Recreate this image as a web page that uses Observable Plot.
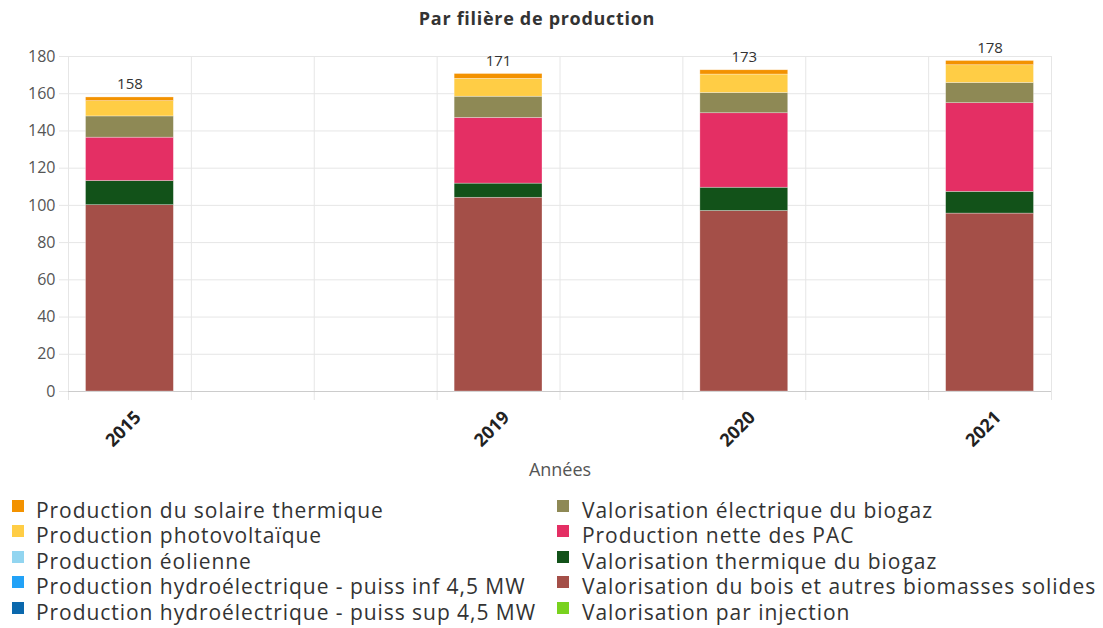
<!DOCTYPE html>
<html>
<head>
<meta charset="utf-8">
<script src="https://cdn.jsdelivr.net/npm/d3@7"></script>
<script src="https://cdn.jsdelivr.net/npm/@observablehq/plot@0.6"></script>
<style>
  body { margin: 0; background: #fff; }
  #wrap { position: relative; width: 1103px; height: 628px; font-family: "Open Sans", sans-serif; overflow: hidden; background: #fff; }
  #title { position: absolute; top: 6px; left: 0; width: 1074px; text-align: center; font-weight: 700; font-size: 18px; letter-spacing: 0.7px; color: #333; z-index: 2; }
  #chart { position: absolute; top: 20px; left: 0; z-index: 1; }
  .leg { position: absolute; font-size: 21px; letter-spacing: 0.95px; color: #333; line-height: 25.4px; white-space: nowrap; }
</style>
</head>
<body>
<div id="wrap">
  <div id="chart"></div>
  <div id="title"></div>
  <div id="legend"></div>
</div>
<script>
// ---- data ----
const title = "Par filière de production";
const xLabel = "Années";
const slots = ["2015", "_a", "_b", "2019", "_c", "2020", "_d", "2021"];
const years = ["2015", "2019", "2020", "2021"];

const seriesNames = [
  "Production du solaire thermique",
  "Production photovoltaïque",
  "Production éolienne",
  "Production hydroélectrique - puiss inf 4,5 MW",
  "Production hydroélectrique - puiss sup 4,5 MW",
  "Valorisation électrique du biogaz",
  "Production nette des PAC",
  "Valorisation thermique du biogaz",
  "Valorisation du bois et autres biomasses solides",
  "Valorisation par injection"
];
const seriesColors = [
  "#f39200", "#ffcd45", "#92d5f0", "#22a2f7", "#0a68ad",
  "#8e8955", "#e42f64", "#125219", "#a44f48", "#79d21e"
];

const solaireThermique = [2.0, 2.6, 2.3, 2.3];
const photovoltaique   = [8.2, 9.6, 9.9, 9.5];
const eolienne         = [0, 0, 0, 0];
const hydroInf         = [0, 0, 0, 0];
const hydroSup         = [0, 0, 0, 0];
const elecBiogaz       = [11.4, 11.4, 10.9, 10.9];
const pac              = [23.3, 35.3, 40.0, 47.6];
const thermBiogaz      = [13.0, 7.6, 12.5, 11.7];
const bois             = [100.1, 104.1, 97.0, 95.6];
const injection        = [0, 0, 0, 0];

const seriesValues = [solaireThermique, photovoltaique, eolienne, hydroInf, hydroSup,
                      elecBiogaz, pac, thermBiogaz, bois, injection];

const yTicks = [0, 20, 40, 60, 80, 100, 120, 140, 160, 180];

// ---- table (bottom of stack = last series) ----
const rows = [];
for (let s = seriesNames.length - 1; s >= 0; s--) {
  years.forEach((y, i) => rows.push({year: y, series: seriesNames[s], value: seriesValues[s][i]}));
}
const totals = years.map((y, i) => ({
  year: y,
  total: d3.sum(seriesValues, v => v[i])
}));

// ---- layout ----
const width = 1103, height = 475;
const mL = 68, mR = 52, mT = 36, mB = 104;
const step = (width - mL - mR) / slots.length;

document.getElementById("title").textContent = title;

const chart = Plot.plot({
  width, height,
  marginLeft: mL, marginRight: mR, marginTop: mT, marginBottom: mB,
  style: {fontFamily: "'Open Sans', sans-serif", background: "transparent", overflow: "visible"},
  x: {domain: slots, paddingInner: 0.285, paddingOuter: 0.1425, round: false, axis: null},
  y: {domain: [0, 180], axis: null},
  color: {domain: seriesNames, range: seriesColors},
  marks: [
    Plot.gridY(yTicks, {stroke: "#e6e6e6", strokeOpacity: 1, insetLeft: -9}),
    Plot.ruleX(slots, {x: d => d, y1: 180, y2: 0, dx: -step / 2, stroke: "#e6e6e6", insetBottom: -9}),
    Plot.ruleX([slots[slots.length - 1]], {x: d => d, y1: 180, y2: 0, dx: step / 2, stroke: "#e6e6e6", insetBottom: -9}),
    Plot.ruleY([0], {stroke: "#cccccc"}),
    Plot.axisY(yTicks, {tickSize: 0, tickPadding: 13, fontSize: 16, fill: "#555", label: null}),
    Plot.barY(rows, Plot.stackY({x: "year", y: "value", fill: "series", stroke: "#ffffff", strokeWidth: 0.6, strokeOpacity: 0.5})),
    Plot.text(totals, {x: "year", y: "total", text: d => String(Math.round(d.total)), dy: -13, fontSize: 15, fill: "#333", style: "letter-spacing:0.5px"}),
    Plot.text(years, {x: d => d, y: () => 0, text: d => d, rotate: -45, textAnchor: "end", lineAnchor: "middle", dx: 8, dy: 23, fontSize: 18, fontWeight: 700, fill: "#222"}),
    Plot.text([xLabel], {frameAnchor: "bottom", dy: 84, fontSize: 18, fill: "#555"})
  ]
});
chart.querySelectorAll("text").forEach(t => {
  const fw = t.closest("[font-weight='700']") || t.getAttribute("font-weight") === "700";
});
document.getElementById("chart").appendChild(chart);

// ---- legend ----
const legend = document.getElementById("legend");
const cols = [{sw: 12, tx: 36, items: [0, 1, 2, 3, 4]}, {sw: 557, tx: 582, items: [5, 6, 7, 8, 9]}];
cols.forEach(c => {
  c.items.forEach((idx, r) => {
    const sw = document.createElement("div");
    sw.className = "leg";
    sw.style.left = c.sw + "px";
    sw.style.top = (500 + r * 25.4) + "px";
    sw.style.width = "12px"; sw.style.height = "12px";
    sw.style.background = seriesColors[idx];
    legend.appendChild(sw);
    const tx = document.createElement("div");
    tx.className = "leg";
    tx.style.left = c.tx + "px";
    tx.style.top = (498 + r * 25.4) + "px";
    tx.textContent = seriesNames[idx];
    legend.appendChild(tx);
  });
});
</script>
</body>
</html>
